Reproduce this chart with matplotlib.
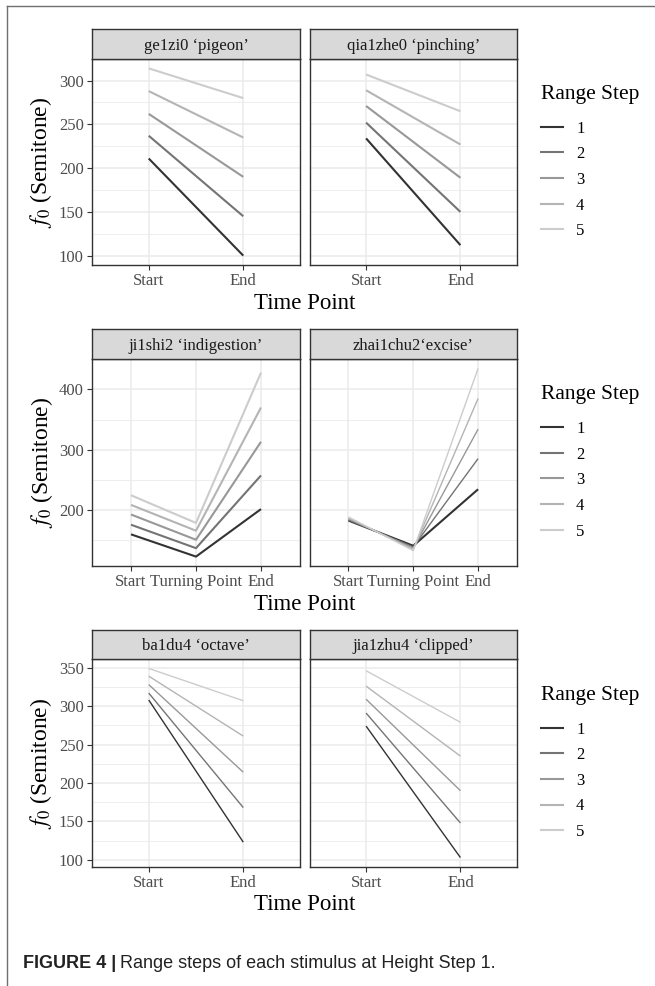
import numpy as np
import matplotlib
matplotlib.use("Agg")
import matplotlib.pyplot as plt
from matplotlib.lines import Line2D

# ----------------------------
# Data
# ----------------------------
steps = [1, 2, 3, 4, 5]
time_two = ["Start", "End"]
time_three = ["Start", "Turning Point", "End"]

titles = [
    "ge1zi0 \u2018pigeon\u2019", "qia1zhe0 \u2018pinching\u2019",
    "ji1shi2 \u2018indigestion\u2019", "zhai1chu2\u2018excise\u2019",
    "ba1du4 \u2018octave\u2019", "jia1zhu4 \u2018clipped\u2019",
]

ge1zi0_start = [211, 237, 262, 288, 314]
ge1zi0_end = [100, 145, 190, 235, 280]

qia1zhe0_start = [234, 252, 271, 289, 307]
qia1zhe0_end = [112, 150, 189, 227, 265]

ji1shi2_start = [159, 175, 192, 208, 224]
ji1shi2_turn = [122, 136, 150, 165, 178]
ji1shi2_end = [201, 257, 313, 370, 428]

zhai1chu2_start = [182, 183, 185, 186, 188]
zhai1chu2_turn = [140, 138, 136, 134, 132]
zhai1chu2_end = [234, 285, 334, 385, 435]

ba1du4_start = [308, 317, 328, 339, 349]
ba1du4_end = [123, 168, 214, 261, 307]

jia1zhu4_start = [274, 291, 309, 326, 346]
jia1zhu4_end = [103, 148, 190, 235, 279]

# ggplot scale_colour_grey()
colors = ["#333333", "#747474", "#989898", "#B4B4B4", "#CCCCCC"]

# ----------------------------
# Style
# ----------------------------
plt.rcParams["font.family"] = ["Liberation Serif", "DejaVu Serif"]
plt.rcParams["mathtext.fontset"] = "stix"

W, H = 655, 986
fig = plt.figure(figsize=(W / 100, H / 100), dpi=100)


def px_axes(x0, y0, x1, y1):
    """add axes using pixel coordinates (top-left origin)"""
    return fig.add_axes([x0 / W, 1 - y1 / H, (x1 - x0) / W, (y1 - y0) / H])


def facet(ax, cats, series, ymajor, ylim, lw):
    n = len(cats)
    xs = np.arange(n)
    for i, ys in enumerate(series):
        ax.plot(xs, ys, color=colors[i], lw=lw[i] if isinstance(lw, list) else lw,
                solid_capstyle="butt", zorder=3)
    lo, hi = ylim
    ax.set_xticks(xs)
    ax.set_yticks(ymajor)
    step = ymajor[1] - ymajor[0]
    minor = np.arange(ymajor[0] - step / 2, ymajor[-1] + step, step)
    minor = minor[(minor > lo) & (minor < hi)]
    ax.set_yticks(minor, minor=True)
    ax.set_ylim(lo, hi)
    ax.set_xlim(-0.6, n - 1 + 0.6)
    ax.grid(True, which="major", color="#EBEBEB", lw=1.1, zorder=0)
    ax.grid(True, which="minor", axis="y", color="#EBEBEB", lw=0.6, zorder=0)
    ax.tick_params(which="minor", length=0)
    ax.tick_params(which="major", length=3.5, width=0.8, color="#333333",
                   labelcolor="#4D4D4D", labelsize=12, pad=2.5)
    for s in ax.spines.values():
        s.set_color("#333333")
        s.set_linewidth(1.0)
    ax.set_axisbelow(True)


def strip(x0, x1, y0, y1, text):
    sax = px_axes(x0, y0, x1, y1)
    sax.set_facecolor("#D9D9D9")
    sax.set_xticks([])
    sax.set_yticks([])
    for s in sax.spines.values():
        s.set_color("#333333")
        s.set_linewidth(1.0)
    sax.text(0.5, 0.45, text, ha="center", va="center", fontsize=12,
             color="#1A1A1A", transform=sax.transAxes)


cols = [(92, 300), (309.5, 517)]
rows = [(29, 59, 265), (329, 359, 566), (630, 659, 867)]

panels = [
    (time_two, [ge1zi0_start, ge1zi0_end], [100, 150, 200, 250, 300], 1.5),
    (time_two, [qia1zhe0_start, qia1zhe0_end], [100, 150, 200, 250, 300], 1.5),
    (time_three, [ji1shi2_start, ji1shi2_turn, ji1shi2_end], [200, 300, 400], 1.5),
    (time_three, [zhai1chu2_start, zhai1chu2_turn, zhai1chu2_end], [200, 300, 400],
     [1.5, 1.0, 1.0, 1.0, 1.0]),
    (time_two, [ba1du4_start, ba1du4_end], [100, 150, 200, 250, 300, 350], 1.0),
    (time_two, [jia1zhu4_start, jia1zhu4_end], [100, 150, 200, 250, 300, 350], 1.0),
]

# shared y range per row, ggplot style 5% expansion
row_lims = []
for r in range(3):
    vals = np.concatenate([np.ravel(panels[2 * r + c][1]) for c in range(2)])
    lo, hi = vals.min(), vals.max()
    pad = 0.05 * (hi - lo)
    row_lims.append((lo - pad, hi + pad))

for k, (cats, pts, ymajor, lw) in enumerate(panels):
    r, c = divmod(k, 2)
    sy0, py0, py1 = rows[r]
    x0, x1 = cols[c]
    ax = px_axes(x0, py0, x1, py1)
    # one series per range step, across time points
    series = [[pts[j][i] for j in range(len(cats))] for i in range(len(steps))]
    facet(ax, cats, series, ymajor, row_lims[r], lw)
    ax.set_xticklabels(cats)
    if c == 1:
        ax.set_yticklabels([])
        ax.tick_params(axis="y", length=0)
    else:
        ax.set_ylabel(r"$f_0$ (Semitone)", fontsize=17, labelpad=3)
    strip(x0, x1, sy0, py0, titles[k])

    if c == 1:
        handles = [Line2D([], [], color=colors[i], lw=1.5) for i in range(5)]
        leg = ax.legend(handles, [str(s) for s in steps], title="Range Step",
                        loc="center left", bbox_to_anchor=(541 / W, 1 - (py0 + py1) / 2 / H),
                        bbox_transform=fig.transFigure, frameon=False, fontsize=12,
                        title_fontsize=15.5, handlelength=1.3, handletextpad=0.8,
                        labelspacing=0.58, borderpad=0, borderaxespad=0,
                        alignment="left")
        leg._legend_box.sep = 12
        fig.text(((cols[0][0] + cols[1][1]) / 2) / W, 1 - (py1 + 38) / H, "Time Point",
                 ha="center", va="center", fontsize=16.5)

# outer frame of the figure panel
fig.add_artist(Line2D([7 / W, 1.0], [1 - 6 / H, 1 - 6 / H], color="#707070", lw=1.0,
                      transform=fig.transFigure))
fig.add_artist(Line2D([7 / W, 7 / W], [1 - 6 / H, 0.0], color="#707070", lw=1.0,
                      transform=fig.transFigure))

# caption
cap1 = fig.text(23 / W, 1 - 964 / H, "FIGURE 4 |", fontsize=13, fontweight="bold",
                family=["Liberation Sans", "DejaVu Sans"], va="center", ha="left",
                color="#222222")
fig.canvas.draw()
bb = cap1.get_window_extent()
fig.text((bb.x1 + 4) / W, 1 - 964 / H, "Range steps of each stimulus at Height Step 1.",
         fontsize=13, family=["Liberation Sans", "DejaVu Sans"], va="center", ha="left",
         color="#222222")

fig.savefig("out.png", dpi=100)
